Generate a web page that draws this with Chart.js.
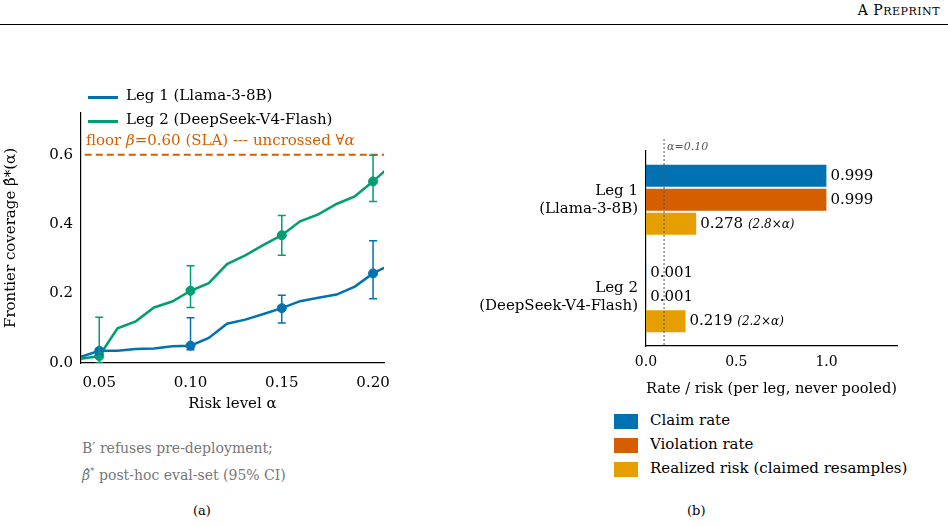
<!DOCTYPE html>
<html>
<head>
<meta charset="utf-8">
<script src="https://cdn.jsdelivr.net/npm/chart.js@4"></script>
<style>
  body { margin: 0; width: 948px; height: 526px; background: #fff; font-family: "DejaVu Serif", "Liberation Serif", serif; position: relative; overflow: hidden; }
  .abs { position: absolute; white-space: nowrap; }
  canvas { position: absolute; }
  .sw { position: absolute; width: 24px; height: 15px; }
</style>
</head>
<body>
<div class="abs" style="right:8px; top:2px; font-size:14px; letter-spacing:0.5px;">A P<span style="font-size:11px">REPRINT</span></div>
<div class="abs" style="left:0; top:24px; width:948px; height:1px; background:#000;"></div>

<canvas id="coverageChart" style="left:0; top:100px;" width="400" height="330"></canvas>
<canvas id="rateChart" style="left:440px; top:130px;" width="480" height="270"></canvas>

<!-- legend (a) -->
<div class="abs" style="left:88px; top:96px; width:30px; height:3px; background:#0072B2;"></div>
<div class="abs" style="left:126px; top:86px; font-size:15px;">Leg 1 (Llama-3-8B)</div>
<div class="abs" style="left:88px; top:120px; width:30px; height:3px; background:#009E73;"></div>
<div class="abs" style="left:126px; top:110px; font-size:15px;">Leg 2 (DeepSeek-V4-Flash)</div>
<div class="abs" style="left:86px; top:131px; font-size:15px; color:#D55E00;">floor <i>β</i>=0.60 (SLA) --- uncrossed ∀<i>α</i></div>

<div class="abs" style="left:82px; top:440px; font-size:14px; color:#777;">B′ refuses pre-deployment;</div>
<div class="abs" style="left:82px; top:466px; font-size:14px; color:#777;"><i>β̂</i><sup style="font-size:9px">*</sup> post-hoc eval-set (95% CI)</div>
<div class="abs" style="left:193px; top:503px; font-size:13px;">(a)</div>
<div class="abs" style="left:687px; top:503px; font-size:13px;">(b)</div>

<!-- legend (b) -->
<div class="sw" style="left:614px; top:414px; background:#0072B2;"></div>
<div class="abs" style="left:650px; top:411px; font-size:15px;">Claim rate</div>
<div class="sw" style="left:614px; top:438px; background:#D55E00;"></div>
<div class="abs" style="left:650px; top:435px; font-size:15px;">Violation rate</div>
<div class="sw" style="left:614px; top:462px; background:#E69F00;"></div>
<div class="abs" style="left:650px; top:459px; font-size:15px;">Realized risk (claimed resamples)</div>

<script>
// ---- data (a) ----
const alphas = [0.04, 0.05, 0.06, 0.07, 0.08, 0.09, 0.10, 0.11, 0.12, 0.13, 0.14, 0.15, 0.16, 0.17, 0.18, 0.19, 0.20, 0.21];
const leg1Coverage = [0.018, 0.035, 0.035, 0.040, 0.042, 0.048, 0.050, 0.072, 0.113, 0.125, 0.141, 0.158, 0.178, 0.188, 0.197, 0.220, 0.258, 0.285];
const leg2Coverage = [0.012, 0.020, 0.100, 0.120, 0.160, 0.177, 0.208, 0.230, 0.285, 0.310, 0.340, 0.368, 0.408, 0.428, 0.458, 0.480, 0.523, 0.570];
const ciAlphas = [0.05, 0.10, 0.15, 0.20];
const leg1Lo = [0.025, 0.038, 0.115, 0.185];
const leg1Hi = [0.042, 0.130, 0.195, 0.352];
const leg2Lo = [0.000, 0.160, 0.310, 0.465];
const leg2Hi = [0.132, 0.280, 0.425, 0.598];
const slaFloor = 0.60;
const xTicksA = [0.05, 0.10, 0.15, 0.20];

// ---- data (b) ----
const legs = [["Leg 1", "(Llama-3-8B)"], ["Leg 2", "(DeepSeek-V4-Flash)"]];
const claimRate = [0.999, 0.001];
const violationRate = [0.999, 0.001];
const realizedRisk = [0.278, 0.219];
const riskNotes = ["(2.8×α)", "(2.2×α)"];
const alphaRef = 0.10;

const BLUE = "#0072B2", GREEN = "#009E73", ORANGE = "#D55E00", YELLOW = "#E69F00";
const FONT = "'DejaVu Serif', 'Liberation Serif', serif";
Chart.defaults.font.family = FONT;
Chart.defaults.color = "#000";

const pts = ys => alphas.map((a, i) => ({ x: a, y: ys[i] }));
const marks = ys => ciAlphas.map(a => ({ x: a, y: ys[alphas.findIndex(v => Math.abs(v - a) < 1e-9)] }));

const errorBars = {
  id: "errorBars",
  afterDatasetsDraw(chart) {
    const { ctx, scales: { x, y } } = chart;
    ctx.save();
    ctx.beginPath();
    ctx.rect(chart.chartArea.left, chart.chartArea.top - 10, chart.chartArea.width + 10, chart.chartArea.height + 10);
    ctx.clip();
    [[leg1Lo, leg1Hi, BLUE], [leg2Lo, leg2Hi, GREEN]].forEach(([lo, hi, c]) => {
      ctx.strokeStyle = c; ctx.lineWidth = 1.5;
      ciAlphas.forEach((a, i) => {
        const px = x.getPixelForValue(a), y0 = y.getPixelForValue(lo[i]), y1 = y.getPixelForValue(hi[i]);
        ctx.beginPath();
        ctx.moveTo(px, y0); ctx.lineTo(px, y1);
        ctx.moveTo(px - 4, y0); ctx.lineTo(px + 4, y0);
        ctx.moveTo(px - 4, y1); ctx.lineTo(px + 4, y1);
        ctx.stroke();
      });
    });
    ctx.restore();
  }
};

new Chart(document.getElementById("coverageChart"), {
  type: "scatter",
  data: {
    datasets: [
      { data: [{ x: 0.03, y: slaFloor }, { x: 0.23, y: slaFloor }], showLine: true, borderColor: ORANGE, borderDash: [7, 4], borderWidth: 2, pointRadius: 0 },
      { data: pts(leg1Coverage), showLine: true, borderColor: BLUE, borderWidth: 2.5, pointRadius: 0 },
      { data: pts(leg2Coverage), showLine: true, borderColor: GREEN, borderWidth: 2.5, pointRadius: 0 },
      { data: marks(leg1Coverage), backgroundColor: BLUE, borderColor: BLUE, pointRadius: 4.5 },
      { data: marks(leg2Coverage), backgroundColor: GREEN, borderColor: GREEN, pointRadius: 4.5 }
    ]
  },
  options: {
    responsive: false, animation: false,
    layout: { padding: { top: 13, right: 16, bottom: 17 } },
    plugins: { legend: { display: false }, tooltip: { enabled: false } },
    scales: {
      x: {
        min: 0.04, max: 0.206,
        grid: { display: false, drawTicks: true, tickLength: 5 },
        border: { color: "#000", width: 1.2 },
        afterBuildTicks: s => { s.ticks = xTicksA.map(v => ({ value: v })); },
        afterFit: s => { s.height = 50; },
        ticks: { font: { size: 15 }, callback: v => v.toFixed(2), maxRotation: 0, padding: 6 },
        title: { display: true, text: "Risk level α", font: { size: 15 }, padding: 0 }
      },
      y: {
        min: 0, max: 0.72,
        grid: { display: false, tickLength: 5 },
        border: { color: "#000", width: 1.2 },
        afterBuildTicks: s => { s.ticks = [0, 0.2, 0.4, 0.6].map(v => ({ value: v })); },
        afterFit: s => { s.width = 81; },
        ticks: { font: { size: 15 }, callback: v => v.toFixed(1) },
        title: { display: true, text: "Frontier coverage β̂*(α)", font: { size: 15 }, padding: 2 }
      }
    }
  },
  plugins: [errorBars]
});

const barLabels = {
  id: "barLabels",
  afterDatasetsDraw(chart) {
    const { ctx, scales: { x } } = chart;
    ctx.save();
    ctx.textBaseline = "middle";
    ctx.fillStyle = "#000";
    chart.data.datasets.forEach((ds, di) => {
      chart.getDatasetMeta(di).data.forEach((bar, i) => {
        const v = ds.data[i];
        ctx.font = "15px " + FONT;
        const txt = v.toFixed(3);
        const px = bar.x + 4;
        ctx.fillText(txt, px, bar.y);
        if (di === 2) {
          const w = ctx.measureText(txt + " ").width;
          ctx.font = "italic 12px " + FONT;
          ctx.fillText(riskNotes[i], px + w, bar.y + 1);
        }
      });
    });
    // alpha reference line
    const ax = x.getPixelForValue(alphaRef);
    ctx.strokeStyle = "#555"; ctx.lineWidth = 1; ctx.setLineDash([2, 2]);
    ctx.beginPath(); ctx.moveTo(ax, chart.chartArea.top - 12); ctx.lineTo(ax, chart.chartArea.bottom); ctx.stroke();
    ctx.setLineDash([]);
    ctx.fillStyle = "#555"; ctx.font = "italic 11px " + FONT;
    ctx.fillText("α=0.10", ax + 3, chart.chartArea.top - 4);
    ctx.restore();
  }
};

new Chart(document.getElementById("rateChart"), {
  type: "bar",
  data: {
    labels: legs,
    datasets: [
      { label: "Claim rate", data: claimRate, backgroundColor: BLUE },
      { label: "Violation rate", data: violationRate, backgroundColor: ORANGE },
      { label: "Realized risk (claimed resamples)", data: realizedRisk, backgroundColor: YELLOW }
    ]
  },
  options: {
    indexAxis: "y",
    responsive: false, animation: false,
    layout: { padding: { top: 18, right: 23 } },
    categoryPercentage: 0.74, barPercentage: 0.92,
    plugins: { legend: { display: false }, tooltip: { enabled: false } },
    scales: {
      x: {
        min: 0, max: 1.39,
        grid: { display: false, tickLength: 5 },
        border: { color: "#000", width: 1.2 },
        afterBuildTicks: s => { s.ticks = [0, 0.5, 1].map(v => ({ value: v })); },
        afterFit: s => { s.height = 54; },
        ticks: { font: { size: 14 }, callback: v => v.toFixed(1) },
        title: { display: true, text: "Rate / risk (per leg, never pooled)", font: { size: 15 }, padding: 2 }
      },
      y: {
        grid: { display: false, tickLength: 5 },
        border: { color: "#000", width: 1.2 },
        afterFit: s => { s.width = 206; },
        ticks: { font: { size: 15 } }
      }
    }
  },
  plugins: [barLabels]
});
</script>
</body>
</html>
